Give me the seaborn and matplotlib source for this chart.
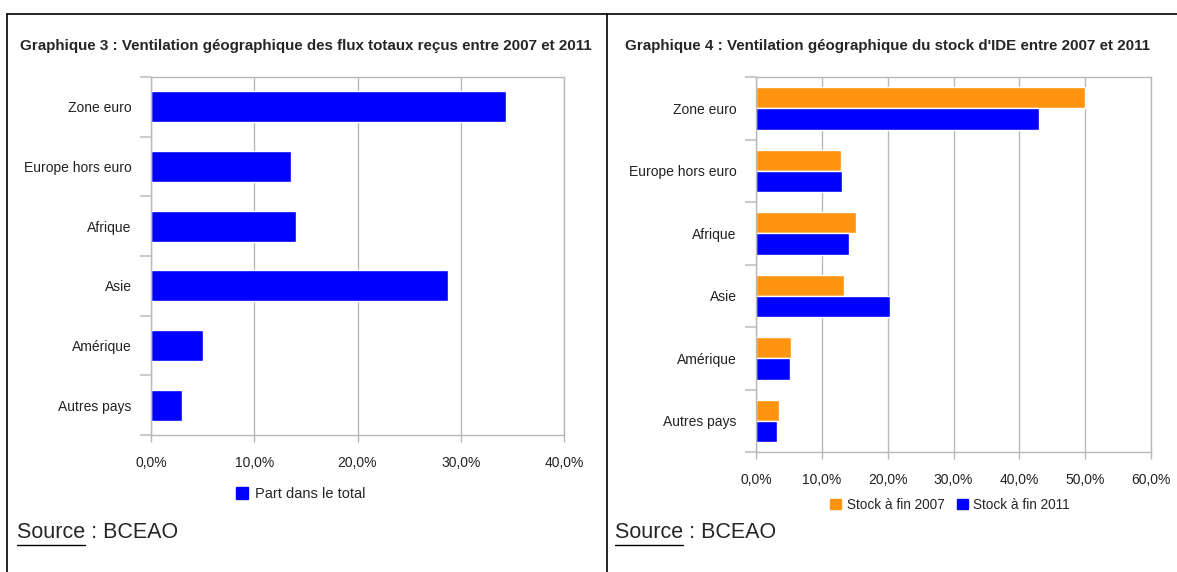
import pandas as pd
import matplotlib
matplotlib.use("Agg")
import matplotlib.pyplot as plt
import seaborn as sns
from matplotlib.lines import Line2D
from matplotlib.ticker import FuncFormatter, FixedLocator

# data
regions = ["Zone euro", "Europe hors euro", "Afrique", "Asie", "Amérique", "Autres pays"]
flux_share = [34.4, 13.6, 14.0, 28.8, 5.0, 3.0]
stock_2007 = [49.9, 12.9, 15.2, 13.4, 5.3, 3.5]
stock_2011 = [43.0, 13.1, 14.1, 20.4, 5.1, 3.2]
series_names = ["Stock à fin 2007", "Stock à fin 2011"]

BLUE = "#0000ff"
ORANGE = "#ff9410"
GRID = "#b8b8b8"

sns.set_style("white")
plt.rcParams["font.family"] = ["Liberation Sans", "DejaVu Sans"]

W, H = 1177, 572
fig = plt.figure(figsize=(W / 100, H / 100), dpi=100)


def px_axes(x0, y0, x1, y1):
    return fig.add_axes([x0 / W, 1 - y1 / H, (x1 - x0) / W, (y1 - y0) / H])


pct = FuncFormatter(lambda v, p: f"{v:.1f}%".replace(".", ","))


def style_axes(ax, xmax):
    ax.set_xlim(0, xmax)
    ax.set_ylim(len(regions) - 0.5, -0.5)
    ax.set_xticks(range(0, xmax + 1, 10))
    ax.xaxis.set_major_formatter(pct)
    ax.grid(axis="x", color=GRID, linewidth=1)
    ax.set_axisbelow(True)
    for s in ax.spines.values():
        s.set_color(GRID)
        s.set_linewidth(1)
    ax.tick_params(axis="x", length=5, width=1, color=GRID, pad=10,
                   labelsize=10, labelcolor="#222222", bottom=True)
    ax.tick_params(axis="y", which="major", length=0, pad=14,
                   labelsize=10, labelcolor="#222222")
    ax.yaxis.set_minor_locator(FixedLocator([i + 0.5 for i in range(-1, len(regions))]))
    ax.tick_params(axis="y", which="minor", length=8, width=1.5, color="#cccccc", left=True)
    ax.set_xlabel("")
    ax.set_ylabel("")


# Graphique 3
ax1 = px_axes(151, 77, 564, 435)
df1 = pd.DataFrame({"region": regions, "part": flux_share})
sns.barplot(data=df1, x="part", y="region", color=BLUE, width=0.52,
            saturation=1, ax=ax1)
style_axes(ax1, 40)

# Graphique 4
ax2 = px_axes(756, 77, 1151, 452)
df2 = pd.DataFrame({
    "region": regions * 2,
    "serie": [series_names[0]] * len(regions) + [series_names[1]] * len(regions),
    "valeur": stock_2007 + stock_2011,
})
sns.barplot(data=df2, x="valeur", y="region", hue="serie",
            palette=[ORANGE, BLUE], width=0.68, gap=0, saturation=1, ax=ax2)
style_axes(ax2, 60)
ax2.get_legend().remove()

# titles
fig.text(20 / W, 1 - 46 / H, "Graphique 3 : Ventilation géographique des flux totaux reçus entre 2007 et 2011",
         fontsize=10.9, fontweight="bold", va="center", ha="left")
fig.text(625 / W, 1 - 46 / H, "Graphique 4 : Ventilation géographique du stock d'IDE entre 2007 et 2011",
         fontsize=10.9, fontweight="bold", va="center", ha="left")

# legends
h_blue = plt.Rectangle((0, 0), 1, 1, color=BLUE)
h_orange = plt.Rectangle((0, 0), 1, 1, color=ORANGE)
fig.legend([h_blue], ["Part dans le total"], loc="center", bbox_to_anchor=(301 / W, 1 - 494 / H),
           frameon=False, fontsize=10.5, handlelength=0.8, handleheight=0.8, handletextpad=0.5)
fig.legend([h_orange, h_blue], series_names, loc="center", bbox_to_anchor=(950 / W, 1 - 505 / H),
           ncol=2, frameon=False, fontsize=9.8, handlelength=0.8, handleheight=0.8,
           handletextpad=0.4, columnspacing=0.9)

# source notes
src = []
for x in (17, 615):
    t = fig.text(x / W, 1 - 533 / H, "Source", fontsize=15.5, va="center", ha="left")
    fig.text(x / W, 1 - 533 / H, "Source : BCEAO", fontsize=15.5, va="center", ha="left")
    src.append(t)

# page frame lines
fig.add_artist(Line2D([7 / W, 1], [1 - 14 / H, 1 - 14 / H], color="black", linewidth=1.2))
fig.add_artist(Line2D([7 / W, 7 / W], [0, 1 - 14 / H], color="black", linewidth=1.2))
fig.add_artist(Line2D([607 / W, 607 / W], [0, 1 - 14 / H], color="black", linewidth=1.2))

# underline "Source"
fig.canvas.draw()
r = fig.canvas.get_renderer()
for t in src:
    bb = t.get_window_extent(r)
    t.set_visible(False)
    y = (bb.y0 - 1) / H
    fig.add_artist(Line2D([bb.x0 / W, bb.x1 / W], [y, y], color="black", linewidth=1))

fig.savefig("out.png", dpi=100)
